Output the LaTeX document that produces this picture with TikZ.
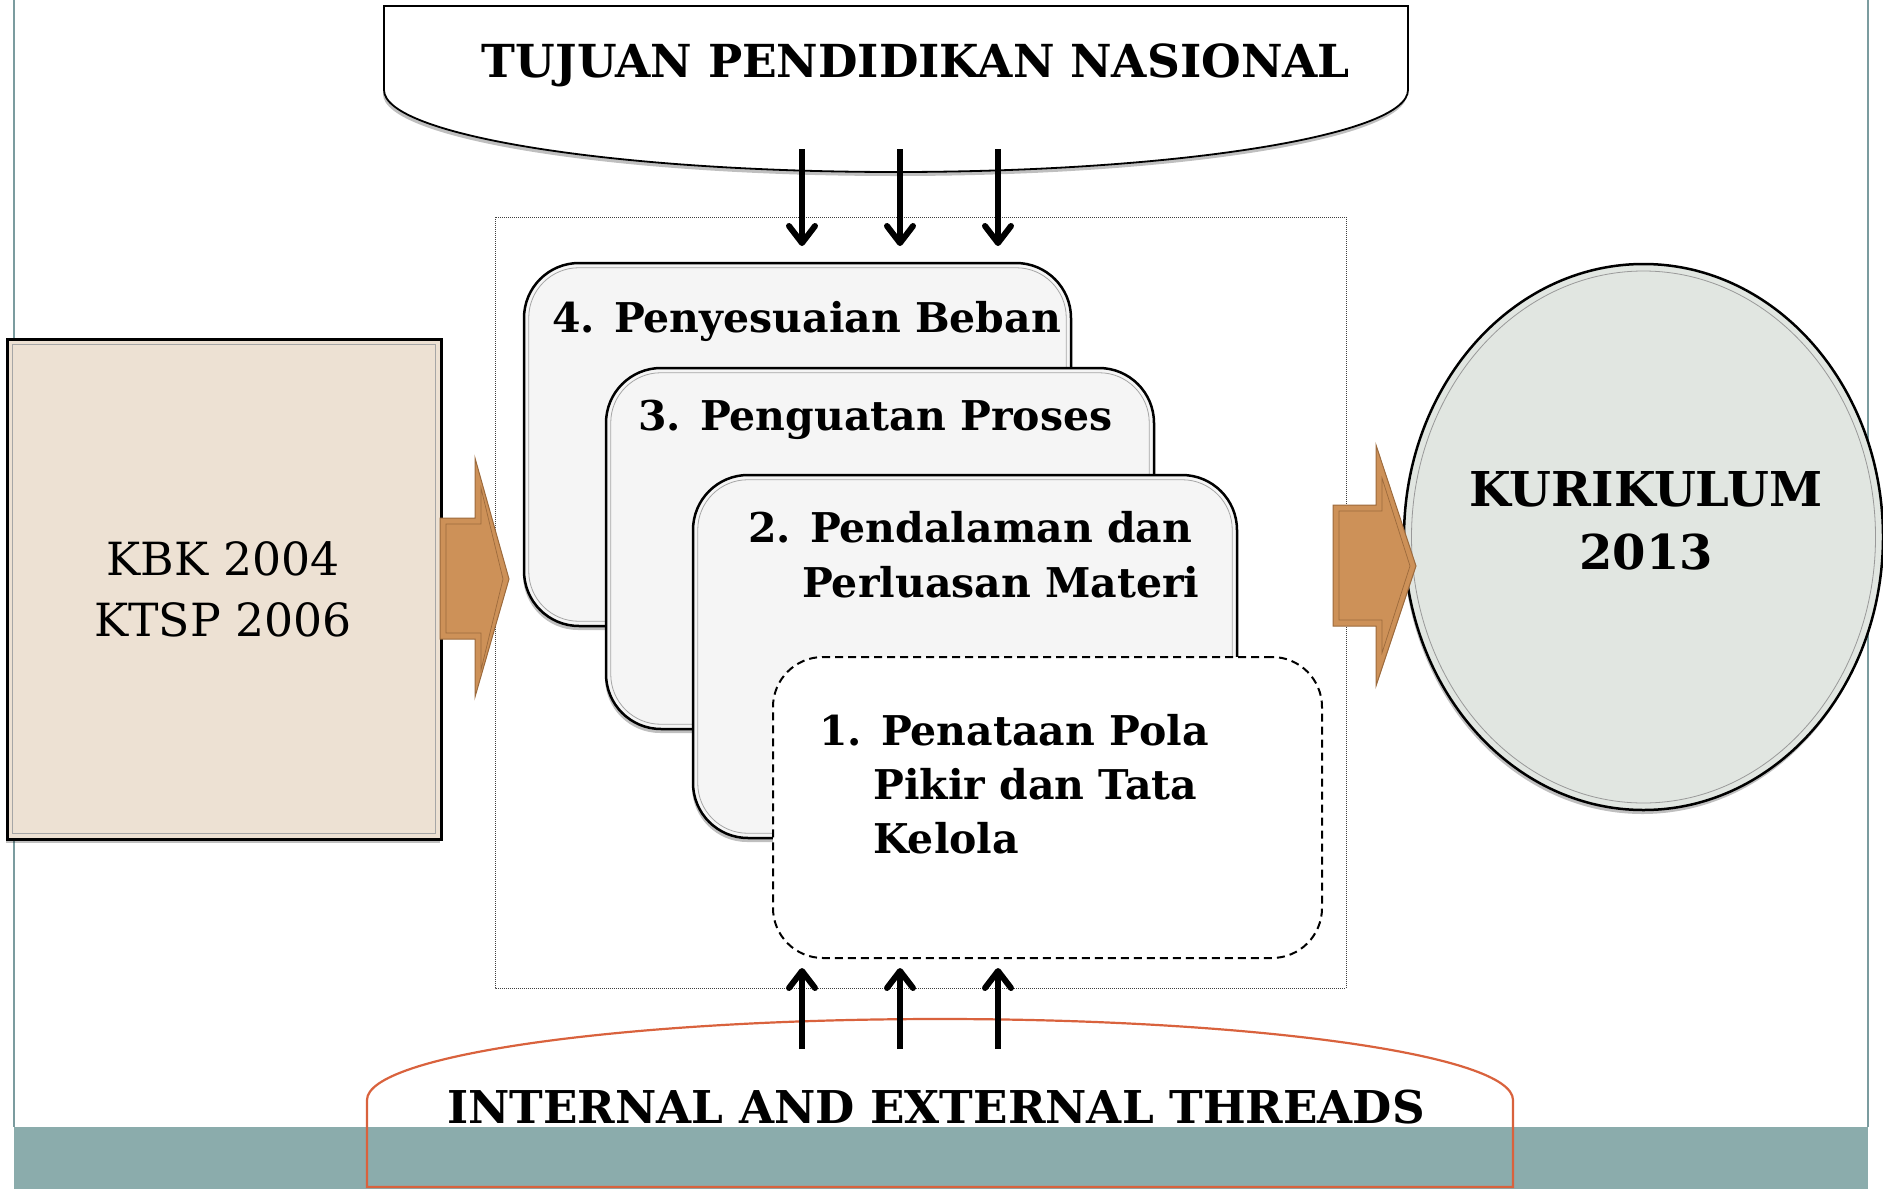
\documentclass[tikz,border=0pt]{standalone}
\usepackage{fontspec}
\setmainfont{DejaVu Serif}
\usetikzlibrary{arrows.meta,shadows,calc,shapes.geometric}
\definecolor{bandc}{HTML}{8BACAC}
\definecolor{vline}{HTML}{7B9C9F}
\definecolor{beige}{HTML}{EDE1D3}
\definecolor{arrc}{HTML}{CD9158}
\definecolor{arrd}{HTML}{9C6A3C}
\definecolor{boxf}{HTML}{F5F5F5}
\definecolor{ellf}{HTML}{E1E6E1}
\definecolor{redb}{HTML}{D9623D}
\begin{document}
\begin{tikzpicture}[x=1pt,y=-1pt,
  shad/.style={drop shadow={shadow xshift=-1pt,shadow yshift=-4pt,opacity=0.25,fill=black}},
  stepbox/.style={draw=black, line width=2.5pt, fill=boxf, rounded corners=55pt, inner sep=0pt, shad},
  innerln/.style={draw=black!35, line width=0.8pt, rounded corners=50pt},
  lbl/.style={font=\fontsize{41}{49}\selectfont\bfseries, inner sep=0pt, anchor=base west},
  biglbl/.style={font=\fontsize{45.5}{55}\selectfont\bfseries, inner sep=0pt, anchor=base},
  tarr/.style={line width=6pt, -{Straight Barb[length=17pt,width=26pt,round]}},
  blockarr/.style={fill=arrc, draw=arrd, line width=1pt, line join=miter},
  blockin/.style={draw=arrd, line width=0.7pt}]
\useasboundingbox (0,0) rectangle (1883,1189);
% side lines
\draw[vline, line width=1.5pt] (14,0) -- (14,1127);
\draw[vline, line width=1.5pt] (1868,0) -- (1868,1127);
% top shape
\draw[fill=white, line width=1.8pt, shad] (384,6) -- (1408,6) -- (1408,90)
  .. controls (1408,135) and (1179,172) .. (896,172)
  .. controls (613,172) and (384,135) .. (384,90) -- cycle;
\node[biglbl] (tujuan) at (916,77) {TUJUAN PENDIDIKAN NASIONAL};
% dotted frame
\draw[black!75, line width=0.8pt, dash pattern=on 1pt off 1pt] (495,217) rectangle (1346,988);
% box 4
\node[stepbox, minimum width=547pt, minimum height=363pt] (b4) at (797.5,444.5) {};
\draw[innerln] ($(b4.north west)+(6,6)$) rectangle ($(b4.south east)+(-6,-6)$);
\node[lbl] (t4) at (552,332) {4. Penyesuaian Beban};
% box 3
\node[stepbox, minimum width=548pt, minimum height=361pt] (b3) at (880,548.5) {};
\draw[innerln] ($(b3.north west)+(6,6)$) rectangle ($(b3.south east)+(-6,-6)$);
\node[lbl] (t3) at (638,430) {3. Penguatan Proses};
% box 2
\node[stepbox, minimum width=544pt, minimum height=363pt] (b2) at (965,656.5) {};
\draw[innerln] ($(b2.north west)+(6,6)$) rectangle ($(b2.south east)+(-6,-6)$);
\node[lbl] (t2a) at (748,542) {2. Pendalaman dan};
\node[lbl] (t2b) at (802,597) {Perluasan Materi};
% box 1
\node[draw=black, line width=2pt, dash pattern=on 8pt off 5pt, fill=white, rounded corners=50pt,
  minimum width=549pt, minimum height=301pt, inner sep=0pt] (b1) at (1047.5,807.5) {};
\node[lbl] (t1a) at (819,745) {1. Penataan Pola};
\node[lbl] (t1b) at (873,799) {Pikir dan Tata};
\node[lbl] (t1c) at (873,853) {Kelola};
% left box
\node[draw=black, line width=3pt, fill=beige, minimum width=434pt, minimum height=500pt, inner sep=0pt, shad] (kbk) at (224,589) {};
\draw[black!35, line width=0.8pt] ($(kbk.north west)+(7,7)$) rectangle ($(kbk.south east)+(-7,-7)$);
\node[font=\fontsize{45.7}{55}\selectfont, inner sep=0pt, anchor=base] (kbk1) at (223,575) {KBK 2004};
\node[font=\fontsize{45.7}{55}\selectfont, inner sep=0pt, anchor=base] (kbk2) at (223,636) {KTSP 2006};
% left block arrow
\draw[blockarr] (440,518) -- (475,518) -- (475,458) -- (509,579) -- (475,697) -- (475,639) -- (440,639) -- cycle;
\draw[blockin] (446,524) -- (481,524) -- (481,488) -- (503,579) -- (481,670) -- (481,633) -- (446,633) -- cycle;
% ellipse
\node[ellipse, draw=black, line width=2.5pt, fill=ellf, minimum width=479pt, minimum height=546pt, inner sep=0pt, shad] (kur) at (1643.5,537) {};
\draw[black!40, line width=0.8pt] (kur.center) ellipse [x radius=232, y radius=266];
\node[font=\fontsize{48}{58}\selectfont\bfseries, inner sep=0pt, anchor=base] (kur1) at (1646,506) {KURIKULUM};
\node[font=\fontsize{48}{58}\selectfont\bfseries, inner sep=0pt, anchor=base] (kur2) at (1646,569) {2013};
% right block arrow
\draw[blockarr] (1333,505) -- (1376,505) -- (1376,445) -- (1416,566) -- (1376,686) -- (1376,626) -- (1333,626) -- cycle;
\draw[blockin] (1339,511) -- (1382,511) -- (1382,478) -- (1410,566) -- (1382,653) -- (1382,620) -- (1339,620) -- cycle;
% down arrows
\coordinate (ds1) at (802,149); \coordinate (de1) at (802,246);
\coordinate (ds2) at (900,149); \coordinate (de2) at (900,246);
\coordinate (ds3) at (998,149); \coordinate (de3) at (998,246);
\draw[tarr] (ds1) -- (de1);
\draw[tarr] (ds2) -- (de2);
\draw[tarr] (ds3) -- (de3);
% bottom shape
\fill[white, shad] (367,1187) -- (367,1100) .. controls (367,1055) and (624,1019) .. (940,1019)
  .. controls (1256,1019) and (1513,1055) .. (1513,1100) -- (1513,1187) -- cycle;
\fill[bandc] (14,1127) rectangle (1868,1189);
\draw[redb, line width=2.2pt] (367,1187) -- (367,1100) .. controls (367,1055) and (624,1019) .. (940,1019)
  .. controls (1256,1019) and (1513,1055) .. (1513,1100) -- (1513,1187) -- cycle;
\node[biglbl, font=\fontsize{45.2}{55}\selectfont\bfseries] (threads) at (936,1123) {INTERNAL AND EXTERNAL THREADS};
% up arrows
\coordinate (us1) at (802,1049); \coordinate (ue1) at (802,968);
\coordinate (us2) at (900,1049); \coordinate (ue2) at (900,968);
\coordinate (us3) at (998,1049); \coordinate (ue3) at (998,968);
\draw[tarr] (us1) -- (ue1);
\draw[tarr] (us2) -- (ue2);
\draw[tarr] (us3) -- (ue3);
\end{tikzpicture}
\end{document}
